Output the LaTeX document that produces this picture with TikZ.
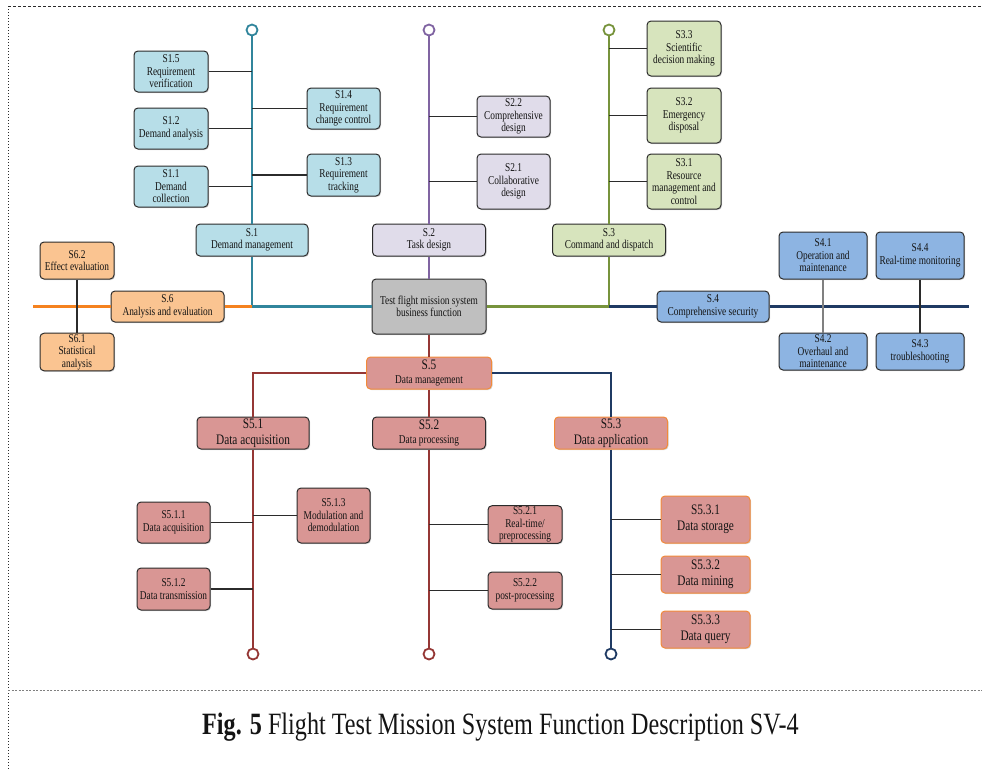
\documentclass[tikz,border=0pt]{standalone}
\usepackage{fontspec}
\setmainfont{Liberation Serif}[FakeStretch=0.78]
\usetikzlibrary{shadows}

% line colours
\definecolor{tealc}{HTML}{31859C}
\definecolor{purpc}{HTML}{8064A2}
\definecolor{grnc}{HTML}{77933C}
\definecolor{navyc}{HTML}{1F3A63}
\definecolor{orgc}{HTML}{F5821F}
\definecolor{redc}{HTML}{953735}
% fill colours
\definecolor{tealf}{HTML}{B7DEE8}
\definecolor{purpf}{HTML}{E0DCEA}
\definecolor{grnf}{HTML}{D7E4BD}
\definecolor{bluef}{HTML}{8DB4E2}
\definecolor{orgf}{HTML}{FAC491}
\definecolor{redf}{HTML}{D99694}
\definecolor{grayf}{HTML}{BFBFBF}
\definecolor{orgb}{HTML}{F28A3A}
\definecolor{edge}{HTML}{2B2B2B}
\definecolor{ink}{HTML}{141414}

\newcommand{\lgtxt}[1]{{\fontsize{14.5}{15}\selectfont #1}}

\begin{document}
\begin{tikzpicture}[x=1pt,y=-1pt,
  bx/.style={draw=edge, line width=1pt, rounded corners=4pt, align=center,
    inner sep=1pt, text=ink, font=\fontsize{12}{12.5}\selectfont,
    drop shadow={shadow xshift=1pt, shadow yshift=-1pt, opacity=0.35}},
  lg/.style={font=\fontsize{14.5}{15.5}\selectfont},
  sz/.style 2 args={minimum width=#1pt, minimum height=#2pt},
  spine/.style={draw=#1, line width=2.3pt},
  ring/.style={circle, draw=#1, line width=1.8pt, fill=white, minimum size=11pt, inner sep=0pt},
  conn/.style={draw=edge, line width=1.1pt}]

\useasboundingbox (0,0) rectangle (982,769);

% frame
\draw[edge, line width=0.8pt, dash pattern=on 3pt off 2pt] (8,6) -- (982,6);
\draw[edge, line width=1pt, dash pattern=on 1pt off 2pt] (8,6) -- (8,769);
\draw[gray, line width=0.6pt, dash pattern=on 2pt off 1.5pt] (8,690) -- (982,690);

% central function
\node[bx, fill=grayf, sz={114}{55}] (ctr) at (429,306.5) {Test flight mission system\\business function};

% S.1 demand management
\node[bx, fill=tealf, sz={112}{32}] (s1) at (252,240) {S.1\\Demand management};
\node[bx, fill=tealf, sz={74}{41}] (s15) at (171,71.5) {S1.5\\Requirement\\verification};
\node[bx, fill=tealf, sz={74}{41}] (s12) at (171,128.5) {S1.2\\Demand analysis};
\node[bx, fill=tealf, sz={74}{41}] (s11) at (171,186.5) {S1.1\\Demand\\collection};
\node[bx, fill=tealf, sz={73}{41}] (s14) at (343.5,108.5) {S1.4\\Requirement\\change control};
\node[bx, fill=tealf, sz={73}{42}] (s13) at (343.5,175) {S1.3\\Requirement\\tracking};
\node[ring=tealc] (c1) at (252,30) {};

% S.2 task design
\node[bx, fill=purpf, sz={113}{32}] (s2) at (429,240) {S.2\\Task design};
\node[bx, fill=purpf, sz={73}{41}] (s22) at (513.5,116.5) {S2.2\\Comprehensive\\design};
\node[bx, fill=purpf, sz={73}{55}] (s21) at (513.5,181.5) {S2.1\\Collaborative\\design};
\node[ring=purpc] (c2) at (429,30) {};

% S.3 command and dispatch
\node[bx, fill=grnf, sz={113}{32}] (s3) at (609,240) {S.3\\Command and dispatch};
\node[bx, fill=grnf, sz={74}{55}] (s33) at (684,48.5) {S3.3\\Scientific\\decision making};
\node[bx, fill=grnf, sz={74}{55}] (s32) at (684,115.5) {S3.2\\Emergency\\disposal};
\node[bx, fill=grnf, sz={74}{55}] (s31) at (684,181.5) {S3.1\\Resource\\management and\\control};
\node[ring=grnc] (c3) at (609,30) {};

% S.4 comprehensive security
\node[bx, fill=bluef, sz={112}{31}] (s4) at (713,306.5) {S.4\\Comprehensive security};
\node[bx, fill=bluef, sz={88}{47}] (s41) at (823,255.5) {S4.1\\Operation and\\maintenance};
\node[bx, fill=bluef, sz={88}{47}] (s44) at (920,255.5) {S4.4\\Real-time monitoring};
\node[bx, fill=bluef, sz={88}{37}] (s42) at (823,351.5) {S4.2\\Overhaul and\\maintenance};
\node[bx, fill=bluef, sz={88}{37}] (s43) at (920,351.5) {S4.3\\troubleshooting};
\coordinate (nR) at (969,306.5);

% S.6 analysis and evaluation
\node[bx, fill=orgf, sz={113}{31}] (s6) at (167.5,306.5) {S.6\\Analysis and evaluation};
\node[bx, fill=orgf, sz={74}{37}] (s62) at (77,260.5) {S6.2\\Effect evaluation};
\node[bx, fill=orgf, sz={74}{36}] (s61) at (77,352) {S6.1\\Statistical\\analysis};
\coordinate (oL) at (33,306.5);

% S.5 data management
\node[bx, draw=orgb, fill=redf, sz={125}{32}] (s5) at (429,373) {\lgtxt{S.5}\\[1.5pt]Data management};
\node[bx, lg, fill=redf, sz={112}{32}] (s51) at (253,433) {S5.1\\Data acquisition};
\node[bx, fill=redf, sz={113}{32}] (s52) at (429,433) {\lgtxt{S5.2}\\[1.5pt]Data processing};
\node[bx, lg, draw=orgb, fill=redf, sz={113}{32}] (s53) at (611,433) {S5.3\\Data application};
\node[bx, fill=redf, sz={73}{41}] (s511) at (173.5,522.5) {S5.1.1\\Data acquisition};
\node[bx, fill=redf, sz={73}{55}] (s513) at (333.5,515.5) {S5.1.3\\Modulation and\\demodulation};
\node[bx, fill=redf, sz={73}{42}] (s512) at (173.5,589) {S5.1.2\\Data transmission};
\node[bx, fill=redf, sz={74}{37}] (s521) at (525,524.5) {S5.2.1\\Real-time/\\preprocessing};
\node[bx, fill=redf, sz={74}{37}] (s522) at (525,590.5) {S5.2.2\\post-processing};
\node[bx, lg, draw=orgb, fill=redf, sz={89}{47}] (s531) at (705.5,519.5) {S5.3.1\\Data storage};
\node[bx, lg, draw=orgb, fill=redf, sz={89}{37}] (s532) at (705.5,574.5) {S5.3.2\\Data mining};
\node[bx, lg, draw=orgb, fill=redf, sz={89}{37}] (s533) at (705.5,629.5) {S5.3.3\\Data query};
\node[ring=redc] (c51) at (253,654) {};
\node[ring=redc] (c52) at (429,654) {};
\node[ring=navyc] (c53) at (611,654) {};

% main spines
\draw[spine=tealc] (c1) -- (s1);
\draw[spine=tealc] (s1) -- (s1 |- ctr) -- (ctr);
\draw[spine=orgc] (oL) -- (s6);
\draw[spine=orgc] (s6) -- (s1 |- ctr);
\draw[spine=purpc] (c2) -- (s2) -- (ctr);
\draw[spine=grnc] (c3) -- (s3);
\draw[spine=grnc] (s3) -- (s3 |- ctr) -- (ctr);
\draw[spine=navyc] (s3 |- ctr) -- (s4) -- (nR);
\draw[spine=redc] (ctr) -- (s5) -- (s52) -- (c52);
\draw[spine=redc] (s5) -- (s5 -| s51) -- (s51) -- (c51);
\draw[spine=navyc] (s5) -- (s5 -| s53) -- (s53) -- (c53);

% branch connectors
\foreach \n in {s15,s12,s11,s14,s13} \draw[conn] (\n) -- (\n -| s1);
\foreach \n in {s22,s21} \draw[conn] (\n) -- (\n -| s2);
\foreach \n in {s33,s32,s31} \draw[conn] (\n) -- (\n -| s3);
\foreach \n in {s511,s513,s512} \draw[conn] (\n) -- (\n -| s51);
\foreach \n in {s521,s522} \draw[conn] (\n) -- (\n -| s52);
\foreach \n in {s531,s532,s533} \draw[conn] (\n) -- (\n -| s53);
\draw[conn, draw=gray] (s41) -- (s42);
\draw[conn] (s44) -- (s43);
\draw[conn] (s62) -- (s61);

% caption
\node[text=ink] (cap) at (500.5,727) {\fontsize{31}{33}\selectfont\textbf{Fig. 5} Flight Test Mission System Function Description SV-4};
\end{tikzpicture}
\end{document}
